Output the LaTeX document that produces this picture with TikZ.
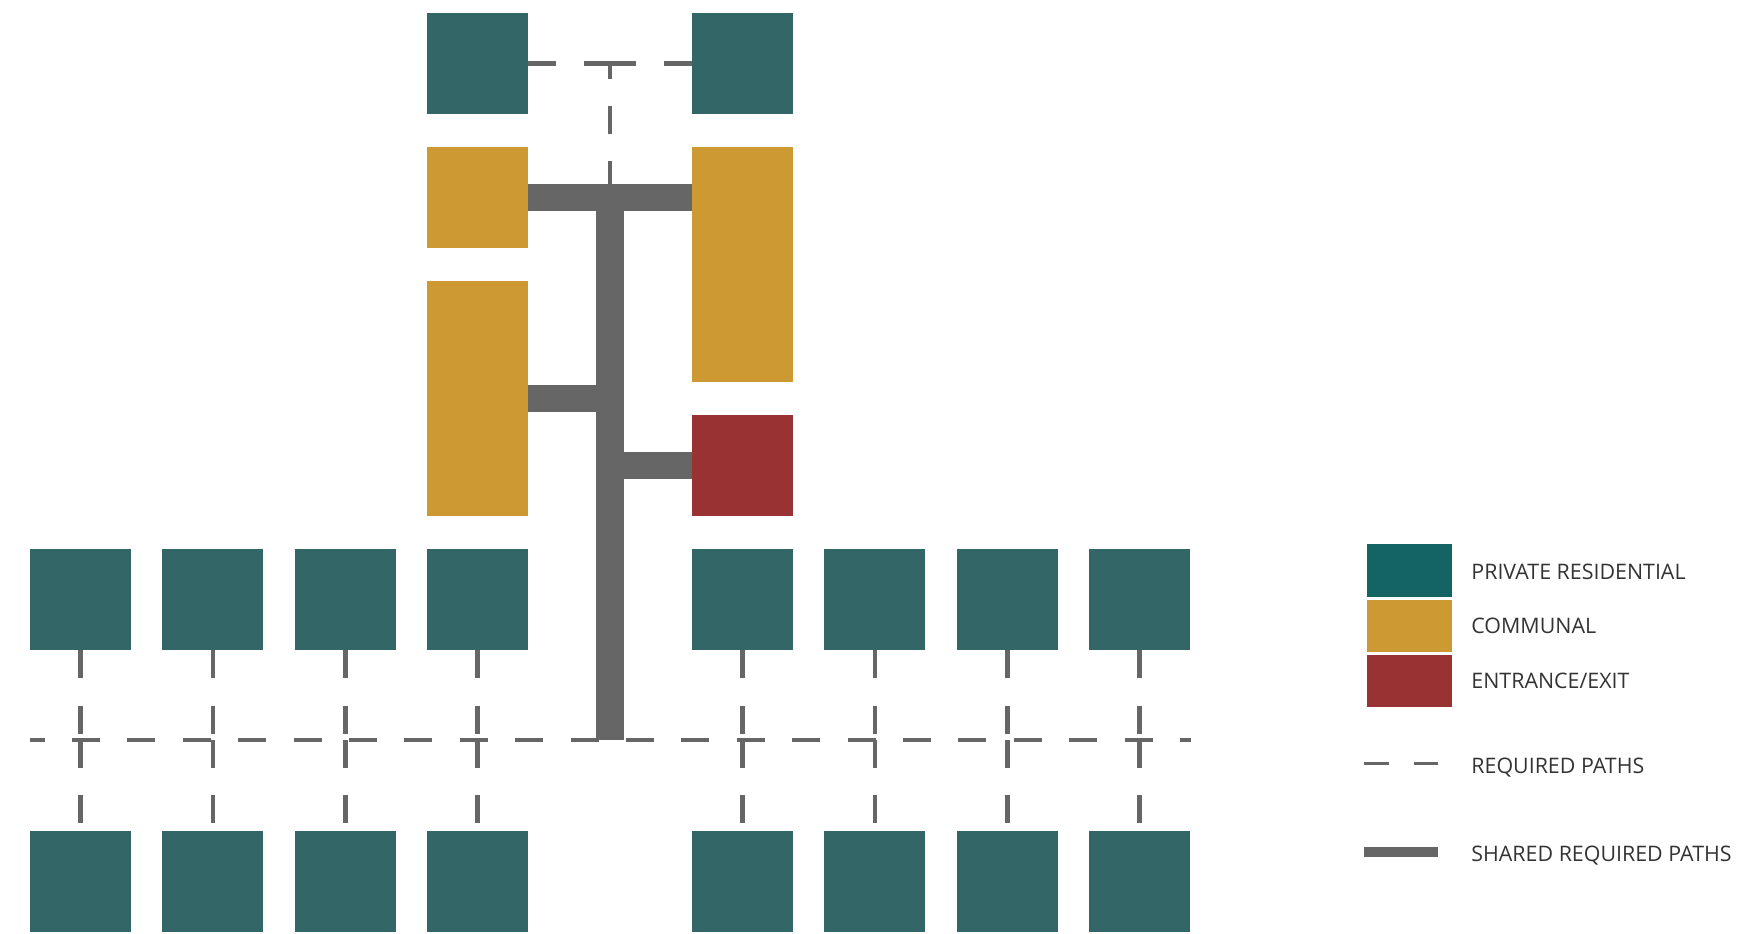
\documentclass[tikz,border=0pt]{standalone}
\usepackage{fontspec}
\setmainfont{Open Sans}
\definecolor{resteal}{HTML}{336666}
\definecolor{keyteal}{HTML}{146464}
\definecolor{comgold}{HTML}{CC9933}
\definecolor{entred}{HTML}{993333}
\definecolor{pathgray}{HTML}{666666}
\definecolor{txtgray}{HTML}{333333}

\begin{document}
\begin{tikzpicture}[x=0.5pt, y=-0.5pt,
      unit/.style={rectangle, inner sep=0pt, minimum width=50.5pt, minimum height=50.5pt},
      res/.style={unit, fill=resteal},
      com/.style={unit, fill=comgold},
      ent/.style={unit, fill=entred},
      tall/.style={minimum height=117.5pt},
      req/.style={draw=pathgray, line width=2.35pt, dash pattern=on 14pt off 13.7pt},
      shared/.style={draw=pathgray, line width=13.75pt},
      swatch/.style={rectangle, inner sep=0pt, minimum width=42.5pt, minimum height=26.3pt},
      lbl/.style={anchor=base west, inner sep=0pt, text=txtgray,
                  font=\fontsize{10.7}{13}\selectfont}
    ]
    \useasboundingbox (0,0) rectangle (1737,933);

    % central block
    \node[res] (topL) at (477.5,63.5) {};
    \node[res] (topR) at (742.5,63.5) {};
    \node[com] (comA) at (477.5,197.5) {};
    \node[com, tall] (comB) at (477.5,398.5) {};
    \node[com, tall] (comC) at (742.5,264.5) {};
    \node[ent] (exit) at (742.5,465.5) {};

    % residential rows
    \foreach \k in {0,1,2,3,5,6,7,8} {
      \node[res] (up\k) at ({80.5+132.4*\k},599.5) {};
      \node[res] (dn\k) at ({80.5+132.4*\k},881.5) {};
    }

    \coordinate (meet) at (610,63.5);
    \coordinate (hub) at (610,197.5);
    \coordinate (base) at (610,740);

    % required paths
    \draw[req] (topL) -- (meet);
    \draw[req] (topR) -- (meet);
    \draw[req, dash phase=6.5pt] (meet) -- (hub);
    \draw[req, dash phase=6.5pt] (up0.west |- base) -- (up8.east |- base);
    \foreach \k in {0,1,2,3,5,6,7,8} {
      \draw[req] (up\k.south) -- (up\k.south |- base);
      \draw[req] (up\k.south |- base) -- (dn\k.north);
    }

    % shared required paths
    \draw[shared] (comA) -- (comA -| comC.west);
    \draw[shared] (hub) -- (base);
    \draw[shared] (comB) -- (comB -| hub);
    \draw[shared] (exit) -- (exit -| hub);

    % legend
    \node[swatch, fill=keyteal] (keyRes) at (1409.5,570.5) {};
    \node[swatch, fill=comgold] (keyCom) at (1409.5,626) {};
    \node[swatch, fill=entred] (keyExit) at (1409.5,681) {};
    \node[lbl] (txtRes) at (1471,579) {PRIVATE RESIDENTIAL};
    \node[lbl] (txtCom) at (1471,633) {COMMUNAL};
    \node[lbl] (txtExit) at (1471,688) {ENTRANCE/EXIT};
    \node[lbl] (txtReq) at (1471,773) {REQUIRED PATHS};
    \node[lbl] (txtShared) at (1471,861) {SHARED REQUIRED PATHS};

    \coordinate (reqA) at (1364,763);
    \coordinate (reqB) at (1438,763);
    \coordinate (shA) at (1364,852);
    \coordinate (shB) at (1438,852);
    \draw[draw=pathgray, line width=1.5pt, dash pattern=on 12.5pt off 12.5pt] (reqA) -- (reqB);
    \draw[pathgray, line width=5pt] (shA) -- (shB);
  \end{tikzpicture}
\end{document}
